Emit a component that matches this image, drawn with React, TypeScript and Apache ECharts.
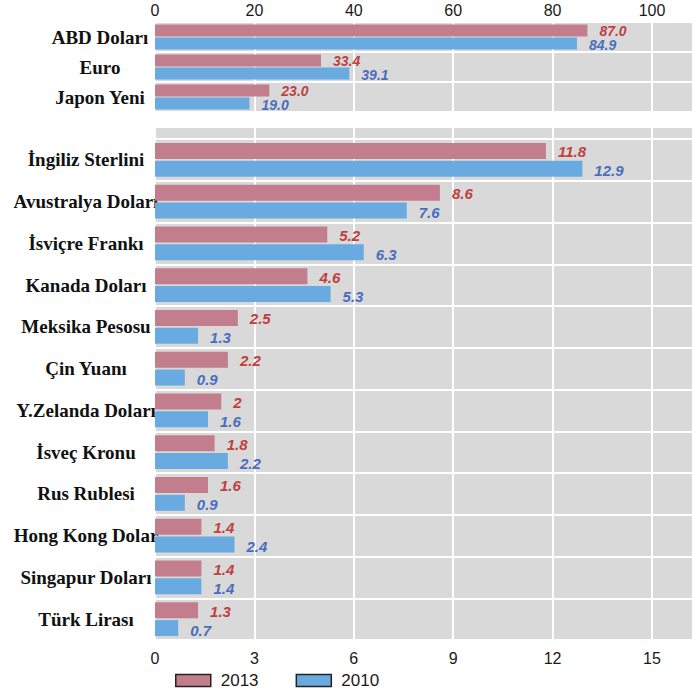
import React, { useEffect, useRef } from "react";
import * as echarts from "echarts";

// Major currencies (percentage share, top panel)
const topCategories = ["ABD Doları", "Euro", "Japon Yeni"];
const top2013 = [87.0, 33.4, 23.0];
const top2010 = [84.9, 39.1, 19.0];

// Other currencies (percentage share, bottom panel)
const bottomCategories = [
  "İngiliz Sterlini",
  "Avustralya Doları",
  "İsviçre Frankı",
  "Kanada Doları",
  "Meksika Pesosu",
  "Çin Yuanı",
  "Y.Zelanda Doları",
  "İsveç Kronu",
  "Rus Rublesi",
  "Hong Kong Dolar",
  "Singapur Doları",
  "Türk Lirası",
];
const bottom2013 = [11.8, 8.6, 5.2, 4.6, 2.5, 2.2, 2, 1.8, 1.6, 1.4, 1.4, 1.3];
const bottom2010 = [12.9, 7.6, 6.3, 5.3, 1.3, 0.9, 1.6, 2.2, 0.9, 2.4, 1.4, 0.7];

const seriesNames = ["2013", "2010"];

const C2013 = "#c27e8c";
const C2010 = "#69abe1";
const L2013 = "#c0403f";
const L2010 = "#4a6dbf";
const BG = "#d9d9d9";
const SANS = "'Liberation Sans', Arial, sans-serif";
const SERIF = "'Liberation Serif', 'Times New Roman', serif";

export default function App() {
  const ref = useRef<HTMLDivElement>(null);

  useEffect(() => {
    if (!ref.current) return;
    const chart = echarts.init(ref.current, null, { renderer: "svg" });

    const splitLine = { show: true, lineStyle: { color: "#ffffff", width: 2 } };
    const valueLabel = (color: string, fixed: boolean, size: number, dy: number) => ({
      show: true,
      position: "right" as const,
      distance: 12,
      offset: [0, dy],
      color,
      fontFamily: SANS,
      fontStyle: "italic" as const,
      fontWeight: "bold" as const,
      fontSize: size,
      lineHeight: size,
      formatter: (p: any) => (fixed ? Number(p.value).toFixed(1) : String(p.value)),
    });
    const catLabel = (margin: number) => ({
      align: "center" as const,
      margin,
      color: "#111111",
      fontFamily: SERIF,
      fontWeight: "bold" as const,
      fontSize: 19,
    });

    chart.setOption({
      animation: false,
      backgroundColor: "#ffffff",
      grid: [
        { left: 155, right: 0, top: 22, height: 90, show: true, backgroundColor: BG, borderWidth: 0 },
        { left: 155, right: 0, top: 139, height: 501, show: true, backgroundColor: BG, borderWidth: 0 },
        { left: 155, right: 0, top: 128, height: 11, show: true, backgroundColor: BG, borderWidth: 0 },
      ],
      xAxis: [
        {
          gridIndex: 0,
          type: "value",
          position: "top",
          min: 0,
          max: 108.25,
          interval: 20,
          axisLine: { show: false },
          axisTick: { show: false },
          splitLine,
          axisLabel: {
            margin: 4,
            color: "#1a1a1a",
            fontFamily: SANS,
            fontSize: 16,
            showMaxLabel: false,
            formatter: (v: number) => (v % 20 === 0 ? String(v) : ""),
          },
        },
        {
          gridIndex: 1,
          type: "value",
          position: "bottom",
          min: 0,
          max: 16.24,
          interval: 3,
          axisLine: { show: false },
          axisTick: { show: false },
          splitLine,
          axisLabel: {
            margin: 10,
            color: "#1a1a1a",
            fontFamily: SANS,
            fontSize: 16,
            showMaxLabel: false,
            formatter: (v: number) => (v % 3 === 0 ? String(v) : ""),
          },
        },
        {
          gridIndex: 2,
          type: "value",
          min: 0,
          max: 16.24,
          interval: 3,
          axisLine: { show: false },
          axisTick: { show: false },
          axisLabel: { show: false },
          splitLine,
        },
      ],
      yAxis: [
        {
          gridIndex: 0,
          type: "category",
          inverse: true,
          data: topCategories,
          axisLine: { show: false },
          axisTick: { show: false },
          splitLine,
          axisLabel: catLabel(55),
        },
        {
          gridIndex: 1,
          type: "category",
          inverse: true,
          data: bottomCategories,
          axisLine: { show: false },
          axisTick: { show: false },
          splitLine,
          axisLabel: catLabel(69),
        },
        {
          gridIndex: 2,
          type: "category",
          data: [""],
          axisLine: { show: false },
          axisTick: { show: false },
          axisLabel: { show: false },
          splitLine: { show: false },
        },
      ],
      legend: {
        data: seriesNames,
        left: 175,
        top: 672,
        padding: 0,
        icon: "rect",
        itemWidth: 35,
        itemHeight: 12,
        itemGap: 37,
        itemStyle: { borderColor: "#222222", borderWidth: 1.5 },
        textStyle: {
          color: "#1a1a1a",
          fontFamily: SANS,
          fontSize: 17,
          lineHeight: 17,
          padding: [0, 0, 0, 5],
        },
      },
      series: [
        {
          name: seriesNames[0],
          type: "bar",
          xAxisIndex: 0,
          yAxisIndex: 0,
          data: top2013,
          barWidth: 12,
          barGap: "8%",
          itemStyle: { color: C2013 },
          label: valueLabel(L2013, true, 14, 0),
        },
        {
          name: seriesNames[1],
          type: "bar",
          xAxisIndex: 0,
          yAxisIndex: 0,
          data: top2010,
          barWidth: 12,
          barGap: "8%",
          itemStyle: { color: C2010 },
          label: valueLabel(L2010, true, 14, 2),
        },
        {
          name: seriesNames[0],
          type: "bar",
          xAxisIndex: 1,
          yAxisIndex: 1,
          data: bottom2013,
          barWidth: 16,
          barGap: "12%",
          itemStyle: { color: C2013 },
          label: valueLabel(L2013, false, 15, 1),
        },
        {
          name: seriesNames[1],
          type: "bar",
          xAxisIndex: 1,
          yAxisIndex: 1,
          data: bottom2010,
          barWidth: 16,
          barGap: "12%",
          itemStyle: { color: C2010 },
          label: valueLabel(L2010, false, 15, 2),
        },
      ],
    });

    return () => chart.dispose();
  }, []);

  return (
    <div
      ref={ref}
      style={{ position: "absolute", left: 0, top: 0, width: 693, height: 695 }}
    />
  );
}
